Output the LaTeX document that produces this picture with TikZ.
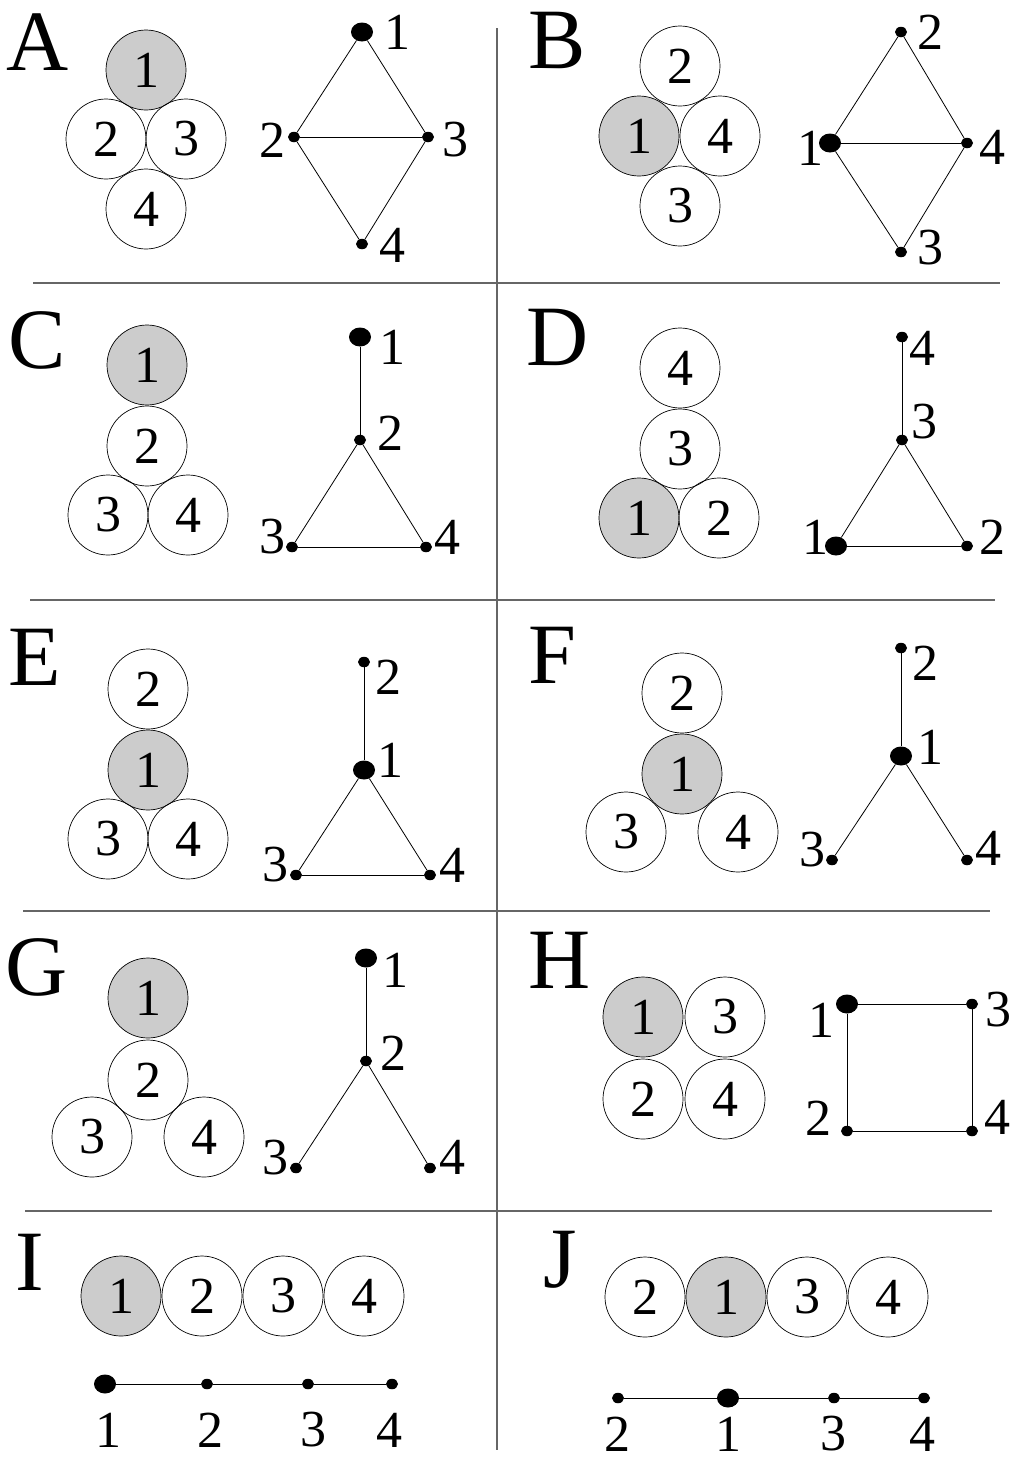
\documentclass[tikz,border=0pt]{standalone}
\usepackage{fontspec}
\setmainfont{Liberation Serif}
\usetikzlibrary{shapes.geometric}
\definecolor{hubgray}{HTML}{CCCCCC}
\newcommand{\digitfont}{\fontsize{52}{52}\selectfont}
\newcommand{\tagfont}{\fontsize{86}{86}\selectfont}

\begin{document}
\begin{tikzpicture}[
  x=1pt, y=-1pt,
  disc/.style={circle, draw, line width=0.7pt, minimum size=80pt, inner sep=0pt, font=\digitfont},
  hub/.style={disc, fill=hubgray},
  vtx/.style={ellipse, fill=black, inner sep=0pt, minimum width=12pt, minimum height=10.5pt},
  bigvtx/.style={ellipse, fill=black, inner sep=0pt, minimum width=22pt, minimum height=19pt},
  num/.style={inner sep=0pt, font=\digitfont},
  tag/.style={inner sep=0pt, font=\tagfont},
  edge/.style={line width=0.8pt},
  divider/.style={line width=1.5pt, draw=black!60}
]
\useasboundingbox (0,0) rectangle (1013,1462);

% panel dividers
\draw[divider] (497,28) -- (497,1450);
\draw[divider] (33,283) -- (1000,283);
\draw[divider] (30,600) -- (995,600);
\draw[divider] (23,911) -- (990,911);
\draw[divider] (25,1211) -- (992,1211);

% A
\node[tag] (tagA) at (38,42) {A};
\node[hub] (a1) at (146,70) {1};
\node[disc] (a2) at (106,139) {2};
\node[disc] (a3) at (186,139) {3};
\node[disc] (a4) at (146,209) {4};
\node[bigvtx] (av1) at (362,32) {};
\node[vtx] (av2) at (294,137) {};
\node[vtx] (av3) at (428,137) {};
\node[vtx] (av4) at (362,244) {};
\node[num] (al1) at (397,32) {1};
\node[num] (al2) at (272,140) {2};
\node[num] (al3) at (455,140) {3};
\node[num] (al4) at (392,245) {4};
\draw[edge] (av1) -- (av2);
\draw[edge] (av1) -- (av3);
\draw[edge] (av2) -- (av3);
\draw[edge] (av2) -- (av4);
\draw[edge] (av3) -- (av4);

% B
\node[tag] (tagB) at (557,40) {B};
\node[disc] (b2) at (680,66) {2};
\node[hub] (b1) at (639,136) {1};
\node[disc] (b4) at (720,136) {4};
\node[disc] (b3) at (680,206) {3};
\node[vtx] (bv2) at (901,32) {};
\node[bigvtx] (bv1) at (830,143) {};
\node[vtx] (bv4) at (967,143) {};
\node[vtx] (bv3) at (901,252) {};
\node[num] (bl2) at (930,32) {2};
\node[num] (bl1) at (810,148) {1};
\node[num] (bl4) at (992,147) {4};
\node[num] (bl3) at (930,248) {3};
\draw[edge] (bv2) -- (bv1);
\draw[edge] (bv2) -- (bv4);
\draw[edge] (bv1) -- (bv4);
\draw[edge] (bv1) -- (bv3);
\draw[edge] (bv4) -- (bv3);

% C
\node[tag] (tagC) at (37,340) {C};
\node[hub] (c1) at (147,365) {1};
\node[disc] (c2) at (147,446) {2};
\node[disc] (c3) at (108,515) {3};
\node[disc] (c4) at (188,515) {4};
\node[bigvtx] (cv1) at (360,337) {};
\node[vtx] (cv2) at (360,440) {};
\node[vtx] (cv3) at (292,547) {};
\node[vtx] (cv4) at (426,547) {};
\node[num] (cl1) at (392,347) {1};
\node[num] (cl2) at (390,433) {2};
\node[num] (cl3) at (272,537) {3};
\node[num] (cl4) at (447,537) {4};
\draw[edge] (cv1) -- (cv2);
\draw[edge] (cv2) -- (cv3);
\draw[edge] (cv2) -- (cv4);
\draw[edge] (cv3) -- (cv4);

% D
\node[tag] (tagD) at (558,337) {D};
\node[disc] (d4) at (680,368) {4};
\node[disc] (d3) at (680,449) {3};
\node[hub] (d1) at (639,518) {1};
\node[disc] (d2) at (719,518) {2};
\node[vtx] (dv4) at (902,337) {};
\node[vtx] (dv3) at (902,440) {};
\node[bigvtx] (dv1) at (836,546) {};
\node[vtx] (dv2) at (967,546) {};
\node[num] (dl4) at (922,348) {4};
\node[num] (dl3) at (924,422) {3};
\node[num] (dl1) at (815,537) {1};
\node[num] (dl2) at (992,537) {2};
\draw[edge] (dv4) -- (dv3);
\draw[edge] (dv3) -- (dv1);
\draw[edge] (dv3) -- (dv2);
\draw[edge] (dv1) -- (dv2);

% E
\node[tag] (tagE) at (35,657) {E};
\node[disc] (e2) at (148,689) {2};
\node[hub] (e1) at (148,770) {1};
\node[disc] (e3) at (108,839) {3};
\node[disc] (e4) at (188,839) {4};
\node[vtx] (ev2) at (364,662) {};
\node[bigvtx] (ev1) at (364,770) {};
\node[vtx] (ev3) at (296,875) {};
\node[vtx] (ev4) at (430,875) {};
\node[num] (el2) at (388,677) {2};
\node[num] (el1) at (390,760) {1};
\node[num] (el3) at (275,865) {3};
\node[num] (el4) at (452,865) {4};
\draw[edge] (ev2) -- (ev1);
\draw[edge] (ev1) -- (ev3);
\draw[edge] (ev1) -- (ev4);
\draw[edge] (ev3) -- (ev4);

% F
\node[tag] (tagF) at (552,655) {F};
\node[disc] (f2) at (682,693) {2};
\node[hub] (f1) at (682,774) {1};
\node[disc] (f3) at (626,832) {3};
\node[disc] (f4) at (738,832) {4};
\node[vtx] (fv2) at (901,648) {};
\node[bigvtx] (fv1) at (901,756) {};
\node[vtx] (fv3) at (832,860) {};
\node[vtx] (fv4) at (967,860) {};
\node[num] (fl2) at (925,663) {2};
\node[num] (fl1) at (930,747) {1};
\node[num] (fl3) at (812,850) {3};
\node[num] (fl4) at (988,848) {4};
\draw[edge] (fv2) -- (fv1);
\draw[edge] (fv1) -- (fv3);
\draw[edge] (fv1) -- (fv4);

% G
\node[tag] (tagG) at (37,967) {G};
\node[hub] (g1) at (148,998) {1};
\node[disc] (g2) at (148,1080) {2};
\node[disc] (g3) at (92,1137) {3};
\node[disc] (g4) at (204,1137) {4};
\node[bigvtx] (gv1) at (366,958) {};
\node[vtx] (gv2) at (366,1061) {};
\node[vtx] (gv3) at (296,1168) {};
\node[vtx] (gv4) at (430,1168) {};
\node[num] (gl1) at (395,970) {1};
\node[num] (gl2) at (393,1053) {2};
\node[num] (gl3) at (275,1158) {3};
\node[num] (gl4) at (452,1157) {4};
\draw[edge] (gv1) -- (gv2);
\draw[edge] (gv2) -- (gv3);
\draw[edge] (gv2) -- (gv4);

% H
\node[tag] (tagH) at (560,960) {H};
\node[hub] (h1) at (643,1017) {1};
\node[disc] (h3) at (725,1017) {3};
\node[disc] (h2) at (643,1099) {2};
\node[disc] (h4) at (725,1099) {4};
\node[bigvtx] (hv1) at (847,1004) {};
\node[vtx] (hv3) at (972,1004) {};
\node[vtx] (hv2) at (847,1131) {};
\node[vtx] (hv4) at (972,1131) {};
\node[num] (hl1) at (821,1020) {1};
\node[num] (hl3) at (998,1010) {3};
\node[num] (hl2) at (818,1118) {2};
\node[num] (hl4) at (997,1117) {4};
\draw[edge] (hv1) -- (hv3);
\draw[edge] (hv1) -- (hv2);
\draw[edge] (hv3) -- (hv4);
\draw[edge] (hv2) -- (hv4);

% I
\node[tag] (tagI) at (30,1262) {I};
\node[hub] (i1) at (121,1296) {1};
\node[disc] (i2) at (202,1296) {2};
\node[disc] (i3) at (283,1296) {3};
\node[disc] (i4) at (364,1296) {4};
\node[bigvtx] (iv1) at (105,1384) {};
\node[vtx] (iv2) at (207,1384) {};
\node[vtx] (iv3) at (308,1384) {};
\node[vtx] (iv4) at (392,1384) {};
\node[num] (il1) at (108,1430) {1};
\node[num] (il2) at (210,1430) {2};
\node[num] (il3) at (313,1430) {3};
\node[num] (il4) at (389,1430) {4};
\draw[edge] (iv1) -- (iv2);
\draw[edge] (iv2) -- (iv3);
\draw[edge] (iv3) -- (iv4);

% J
\node[tag] (tagJ) at (560,1260) {J};
\node[disc] (j2) at (645,1297) {2};
\node[hub] (j1) at (726,1297) {1};
\node[disc] (j3) at (807,1297) {3};
\node[disc] (j4) at (888,1297) {4};
\node[vtx] (jv2) at (618,1398) {};
\node[bigvtx] (jv1) at (728,1398) {};
\node[vtx] (jv3) at (834,1398) {};
\node[vtx] (jv4) at (924,1398) {};
\node[num] (jl2) at (617,1434) {2};
\node[num] (jl1) at (728,1434) {1};
\node[num] (jl3) at (833,1434) {3};
\node[num] (jl4) at (922,1434) {4};
\draw[edge] (jv2) -- (jv1);
\draw[edge] (jv1) -- (jv3);
\draw[edge] (jv3) -- (jv4);
\end{tikzpicture}
\end{document}
